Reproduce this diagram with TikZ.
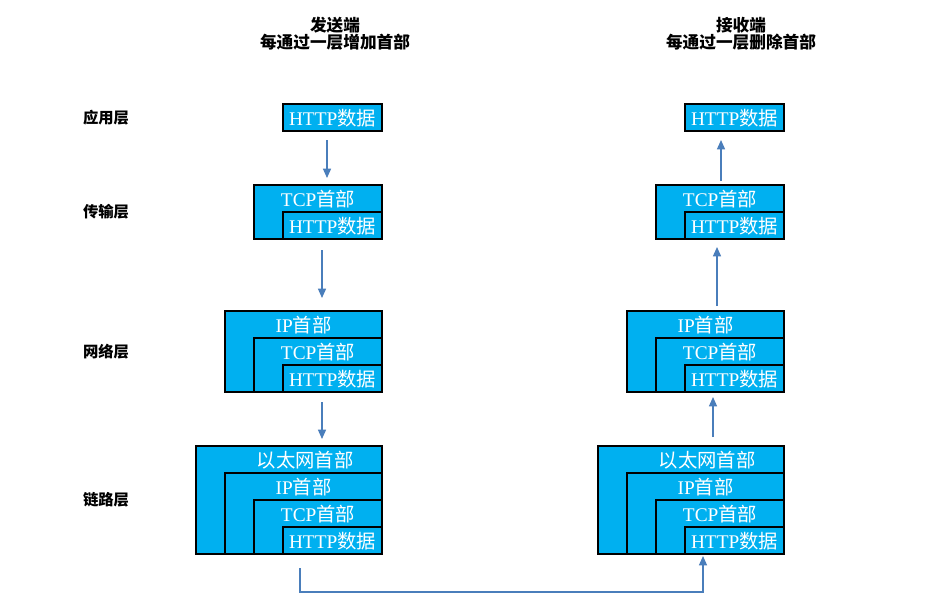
\documentclass[tikz,border=0pt]{standalone}
\usepackage{fontspec}
\setmainfont{Liberation Serif}
\newfontfamily\cjk{Noto Sans CJK SC}
\usetikzlibrary{arrows.meta}
\definecolor{boxblue}{HTML}{00B0F0}
\definecolor{arrblue}{HTML}{4A7EBB}
\newcommand{\lat}[1]{{\rmfamily #1}}
\begin{document}
\begin{tikzpicture}[x=0.75pt,y=-0.75pt,
  layer/.style={draw=black,fill=boxblue,line width=0.9pt,inner sep=0pt},
  btext/.style={text=white,font=\fontsize{14.5}{16}\selectfont,inner sep=0pt,anchor=center},
  lbl/.style={font=\cjk\bfseries\fontsize{11.5}{13}\selectfont,inner sep=0pt},
  ttl/.style={font=\cjk\bfseries\fontsize{12.5}{13}\selectfont,align=center,inner sep=0pt},
  arr/.style={draw=arrblue,line width=1pt,-{Triangle[length=7pt,width=6pt]}},
  conn/.style={draw=arrblue,line width=1pt}]
\useasboundingbox (0,0) rectangle (936,615);
\fill[white] (0,0) rectangle (936,615);

% titles
\node[ttl] (tl) at (335,33.5) {发送端\\每通过一层增加首部};
\node[ttl] (tr) at (741,33.5) {接收端\\每通过一层删除首部};

% layer labels
\node[lbl] (l1) at (106,118) {应用层};
\node[lbl] (l2) at (106,212) {传输层};
\node[lbl] (l3) at (106,352) {网络层};
\node[lbl] (l4) at (106,500) {链路层};

% ---------- left stack ----------
\draw[layer] (283,104) rectangle (382,131);
\node[btext] (lah) at (332.5,118.5) {\lat{HTTP}{\cjk 数据}};
\draw[layer] (254,185) rectangle (382,239);
\draw[layer] (283,212) rectangle (382,239);
\node[btext] (ltt) at (318,199.5) {\lat{TCP}{\cjk 首部}};
\node[btext] (lth) at (332.5,226.5) {\lat{HTTP}{\cjk 数据}};
\draw[layer] (225,311) rectangle (382,392);
\draw[layer] (254,338) rectangle (382,392);
\draw[layer] (283,365) rectangle (382,392);
\node[btext] (lni) at (303.5,325.5) {\lat{IP}{\cjk 首部}};
\node[btext] (lnt) at (318,352.5) {\lat{TCP}{\cjk 首部}};
\node[btext] (lnh) at (332.5,379.5) {\lat{HTTP}{\cjk 数据}};
\draw[layer] (196,446) rectangle (382,554);
\draw[layer] (225,473) rectangle (382,554);
\draw[layer] (254,500) rectangle (382,554);
\draw[layer] (283,527) rectangle (382,554);
\node[btext] (lle) at (305,460.5) {\cjk 以太网首部};
\node[btext] (lli) at (303.5,487.5) {\lat{IP}{\cjk 首部}};
\node[btext] (llt) at (318,514.5) {\lat{TCP}{\cjk 首部}};
\node[btext] (llh) at (332.5,541.5) {\lat{HTTP}{\cjk 数据}};

% ---------- right stack ----------
\begin{scope}[xshift=402*0.75pt]
\draw[layer] (283,104) rectangle (382,131);
\node[btext] (rah) at (332.5,118.5) {\lat{HTTP}{\cjk 数据}};
\draw[layer] (254,185) rectangle (382,239);
\draw[layer] (283,212) rectangle (382,239);
\node[btext] (rtt) at (318,199.5) {\lat{TCP}{\cjk 首部}};
\node[btext] (rth) at (332.5,226.5) {\lat{HTTP}{\cjk 数据}};
\draw[layer] (225,311) rectangle (382,392);
\draw[layer] (254,338) rectangle (382,392);
\draw[layer] (283,365) rectangle (382,392);
\node[btext] (rni) at (303.5,325.5) {\lat{IP}{\cjk 首部}};
\node[btext] (rnt) at (318,352.5) {\lat{TCP}{\cjk 首部}};
\node[btext] (rnh) at (332.5,379.5) {\lat{HTTP}{\cjk 数据}};
\draw[layer] (196,446) rectangle (382,554);
\draw[layer] (225,473) rectangle (382,554);
\draw[layer] (254,500) rectangle (382,554);
\draw[layer] (283,527) rectangle (382,554);
\node[btext] (rle) at (305,460.5) {\cjk 以太网首部};
\node[btext] (rli) at (303.5,487.5) {\lat{IP}{\cjk 首部}};
\node[btext] (rlt) at (318,514.5) {\lat{TCP}{\cjk 首部}};
\node[btext] (rlh) at (332.5,541.5) {\lat{HTTP}{\cjk 数据}};
\end{scope}

% arrow end points
\coordinate (a1s) at (327,140); \coordinate (a1e) at (327,178);
\coordinate (a2s) at (322,250); \coordinate (a2e) at (322,298);
\coordinate (a3s) at (322,402); \coordinate (a3e) at (322,439);
\coordinate (b1s) at (721,181); \coordinate (b1e) at (721,140);
\coordinate (b2s) at (717,306); \coordinate (b2e) at (717,247);
\coordinate (b3s) at (713,437); \coordinate (b3e) at (713,397);
\coordinate (cs) at (300,568); \coordinate (cm1) at (300,592);
\coordinate (cm2) at (703,592); \coordinate (ce) at (703,556);

\draw[arr] (a1s) -- (a1e);
\draw[arr] (a2s) -- (a2e);
\draw[arr] (a3s) -- (a3e);
\draw[arr] (b1s) -- (b1e);
\draw[arr] (b2s) -- (b2e);
\draw[arr] (b3s) -- (b3e);
\draw[arr] (cs) -- (cm1) -- (cm2) -- (ce);
\end{tikzpicture}
\end{document}
